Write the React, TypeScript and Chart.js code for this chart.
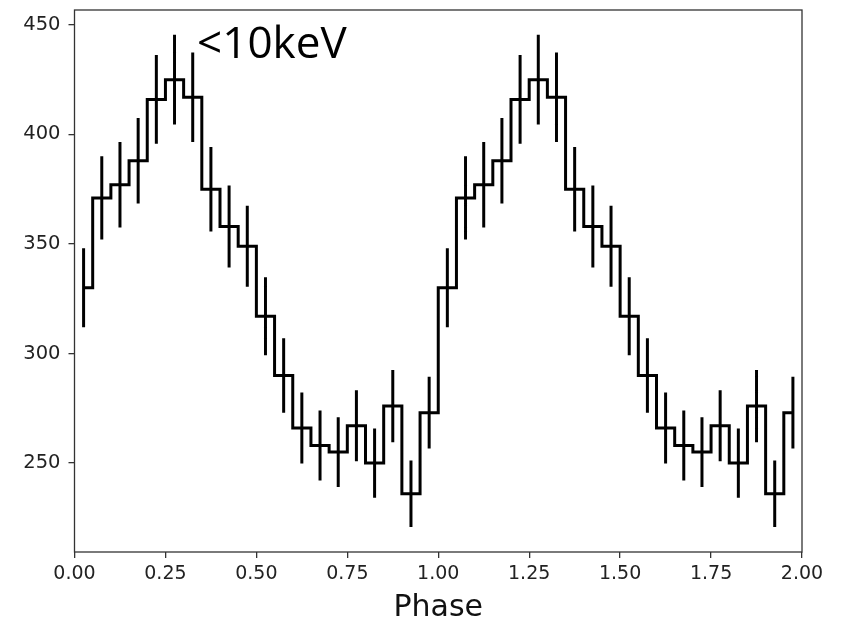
import React, { useEffect, useRef } from "react";
import { Chart, registerables } from "chart.js";

Chart.register(...registerables);

// Bin centres (phase), two cycles of 20 bins each
const PHASE = [
  0.025, 0.075, 0.125, 0.175, 0.225, 0.275, 0.325, 0.375, 0.425, 0.475,
  0.525, 0.575, 0.625, 0.675, 0.725, 0.775, 0.825, 0.875, 0.925, 0.975,
  1.025, 1.075, 1.125, 1.175, 1.225, 1.275, 1.325, 1.375, 1.425, 1.475,
  1.525, 1.575, 1.625, 1.675, 1.725, 1.775, 1.825, 1.875, 1.925, 1.975,
];

const COUNTS = [
  330, 371, 377, 388, 416, 425, 417, 375, 358, 349,
  317, 290, 266, 258, 255, 267, 250, 276, 236, 273,
  330, 371, 377, 388, 416, 425, 417, 375, 358, 349,
  317, 290, 266, 258, 255, 267, 250, 276, 236, 273,
];

const ERRORS = [
  18, 19, 19.5, 19.5, 20.3, 20.5, 20.4, 19.3, 18.7, 18.5,
  17.8, 17, 16.2, 16, 15.9, 16.2, 15.8, 16.5, 15.2, 16.4,
  18, 19, 19.5, 19.5, 20.3, 20.5, 20.4, 19.3, 18.7, 18.5,
  17.8, 17, 16.2, 16, 15.9, 16.2, 15.8, 16.5, 15.2, 16.4,
];

const X_TICKS = [0, 0.25, 0.5, 0.75, 1.0, 1.25, 1.5, 1.75, 2.0];
const Y_TICKS = [250, 300, 350, 400, 450];

const LABEL_TEXT = "<10keV";
const LABEL_POS = { x: 0.337, y: 435 };
const X_TITLE = "Phase";

export default function App() {
  const ref = useRef<HTMLCanvasElement | null>(null);

  useEffect(() => {
    const canvas = ref.current;
    if (!canvas) return;

    const stepData = PHASE.map((x, i) => ({ x, y: COUNTS[i] }));
    const errData: { x: number; y: number | null }[] = [];
    PHASE.forEach((x, i) => {
      errData.push({ x, y: COUNTS[i] - ERRORS[i] });
      errData.push({ x, y: COUNTS[i] + ERRORS[i] });
      errData.push({ x, y: null });
    });

    const framePlugin = {
      id: "frame",
      afterDraw(chart: any) {
        const { ctx, chartArea } = chart;
        ctx.save();
        ctx.strokeStyle = "#333";
        ctx.lineWidth = 1.3;
        ctx.strokeRect(
          chartArea.left,
          chartArea.top,
          chartArea.right - chartArea.left,
          chartArea.bottom - chartArea.top
        );
        const xs = chart.scales.x;
        const ys = chart.scales.y;
        ctx.fillStyle = "#000";
        ctx.font = '44px "Open Sans"';
        ctx.textBaseline = "alphabetic";
        ctx.textAlign = "left";
        ctx.fillText(
          LABEL_TEXT,
          xs.getPixelForValue(LABEL_POS.x),
          ys.getPixelForValue(LABEL_POS.y)
        );
        ctx.restore();
      },
    };

    const chart = new Chart(canvas, {
      type: "line",
      data: {
        datasets: [
          {
            data: stepData,
            stepped: "middle",
            borderColor: "#000",
            borderWidth: 3,
            pointRadius: 0,
            fill: false,
            borderJoinStyle: "miter",
          },
          {
            data: errData,
            borderColor: "#000",
            borderWidth: 3,
            pointRadius: 0,
            fill: false,
            spanGaps: false,
            borderCapStyle: "butt",
          },
        ],
      },
      plugins: [framePlugin],
      options: {
        animation: false,
        responsive: false,
        maintainAspectRatio: false,
        layout: { padding: { top: 10, right: 41, left: 0, bottom: 0 } },
        plugins: {
          legend: { display: false },
          tooltip: { enabled: false },
          title: { display: false },
        },
        scales: {
          x: {
            type: "linear",
            min: 0,
            max: 2,
            afterBuildTicks: (s: any) => {
              s.ticks = X_TICKS.map((v) => ({ value: v }));
            },
            afterFit: (s: any) => {
              s.height = 74;
              s.paddingLeft = 0;
              s.paddingRight = 0;
            },
            grid: {
              drawOnChartArea: false,
              drawTicks: true,
              tickLength: 6,
              color: "#333",
              lineWidth: 1.3,
            },
            border: { display: false },
            ticks: {
              color: "#222",
              font: { family: "DejaVu Sans", size: 19 },
              padding: 5,
              maxRotation: 0,
              autoSkip: false,
              callback: (v: any) => Number(v).toFixed(2),
            },
            title: {
              display: true,
              text: X_TITLE,
              color: "#111",
              font: { family: "DejaVu Sans", size: 30 },
              padding: { top: 0, bottom: 0 },
            },
          },
          y: {
            type: "linear",
            min: 209.4,
            max: 456.8,
            afterBuildTicks: (s: any) => {
              s.ticks = Y_TICKS.map((v) => ({ value: v }));
            },
            afterFit: (s: any) => {
              s.width = 74.5;
              s.paddingTop = 0;
              s.paddingBottom = 0;
            },
            grid: {
              drawOnChartArea: false,
              drawTicks: true,
              tickLength: 6,
              color: "#333",
              lineWidth: 1.3,
            },
            border: { display: false },
            ticks: {
              color: "#222",
              font: { family: "DejaVu Sans", size: 19.5 },
              padding: 8,
              autoSkip: false,
            },
          },
        },
      },
    } as any);

    return () => chart.destroy();
  }, []);

  return (
    <div style={{ position: "absolute", left: 0, top: 0, width: 843, height: 626, background: "#fff" }}>
      <canvas ref={ref} width={843} height={626} style={{ display: "block" }} />
    </div>
  );
}
